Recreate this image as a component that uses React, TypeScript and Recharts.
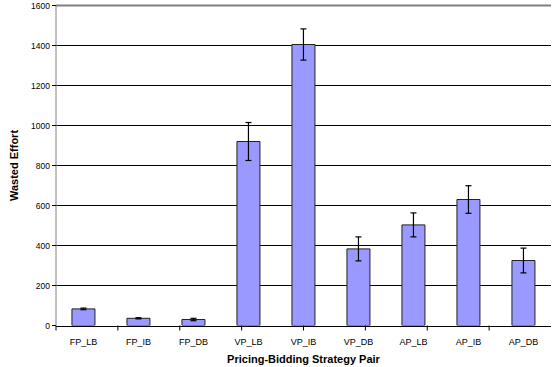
import { Bar, BarChart, CartesianGrid, ErrorBar, Label, ReferenceLine, XAxis, YAxis } from 'recharts';

// strategy pairs along the x axis
const pairs = ['FP_LB', 'FP_IB', 'FP_DB', 'VP_LB', 'VP_IB', 'VP_DB', 'AP_LB', 'AP_IB', 'AP_DB'];
// mean wasted effort per pair
const wasted = [83, 36, 30, 920, 1405, 383, 503, 630, 325];
// half-width of the error bars
const spread = [4, 3, 6, 95, 78, 60, 60, 69, 62];
const yTicks = [0, 200, 400, 600, 800, 1000, 1200, 1400, 1600];
const boundaryTicks = [0, 1, 2, 3, 4, 5, 6, 7, 8, 9];

const data = pairs.map((name, i) => ({ name, effort: wasted[i], err: spread[i] }));

const font = 'Arial, "Liberation Sans", sans-serif';

// tick marks only, no text, for the category boundaries
const NoLabel = () => <g />;

export default function App() {
    return (
        <div style={{ position: 'absolute', left: 0, top: 0, background: '#fff' }}>
            <BarChart width={556} height={367} data={data} margin={{ top: 5.5, right: 5, bottom: 0.5, left: 0 }} barCategoryGap="29%">
                <CartesianGrid xAxisId="b" vertical={false} stroke="#000" horizontalValues={[200, 400, 600, 800, 1000, 1200, 1400]} />
                <XAxis
                    xAxisId="a"
                    type="number"
                    domain={[0, 9]}
                    ticks={boundaryTicks}
                    tick={NoLabel}
                    tickSize={5}
                    tickLine={{ stroke: '#000' }}
                    axisLine={false}
                    height={1}
                />
                <XAxis
                    xAxisId="b"
                    dataKey="name"
                    height={40}
                    tickLine={false}
                    axisLine={{ stroke: '#000' }}
                    tick={{ fontSize: 9, fill: '#000', fontFamily: font }}
                    tickMargin={6}
                    interval={0}
                >
                    <Label value="Pricing-Bidding Strategy Pair" position="insideBottom" offset={4} style={{ fontSize: 11, fontWeight: 'bold', fill: '#000', fontFamily: font }} />
                </XAxis>
                <YAxis
                    width={56}
                    domain={[0, 1600]}
                    ticks={yTicks}
                    tickSize={4}
                    tickLine={{ stroke: '#000' }}
                    axisLine={{ stroke: '#808080' }}
                    tick={{ fontSize: 8.5, fill: '#000', fontFamily: font }}
                    allowDataOverflow
                >
                    <Label value="Wasted Effort" angle={-90} position="insideLeft" offset={14} style={{ fontSize: 11, fontWeight: 'bold', fill: '#000', fontFamily: font, textAnchor: 'middle' }} />
                </YAxis>
                <ReferenceLine xAxisId="b" y={1600} stroke="#808080" strokeWidth={2} />
                <ReferenceLine xAxisId="a" x={9} stroke="#808080" strokeWidth={2} />
                <Bar xAxisId="b" dataKey="effort" fill="#9999FF" stroke="#222" strokeWidth={1} isAnimationActive={false}>
                    <ErrorBar dataKey="err" width={3} stroke="#000" strokeWidth={1.2} direction="y" />
                </Bar>
            </BarChart>
        </div>
    );
}
